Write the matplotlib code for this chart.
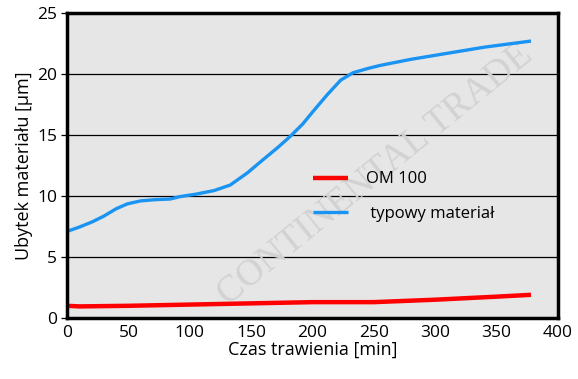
import matplotlib
matplotlib.use("Agg")
import matplotlib.pyplot as plt

# Czas trawienia [min] and Ubytek materiału [um]
t_typowy = [0, 10, 21, 30, 40, 49, 60, 72, 84, 92, 105, 120, 133, 147, 160,
            172, 182, 192, 201, 212, 223, 233, 245, 255, 280, 310, 340, 378]
typowy = [7.1, 7.45, 7.9, 8.35, 8.95, 9.35, 9.6, 9.7, 9.75, 9.95, 10.15, 10.45,
          10.9, 11.9, 13.0, 14.0, 14.9, 15.9, 17.0, 18.3, 19.5, 20.1, 20.45, 20.7,
          21.2, 21.7, 22.2, 22.7]
t_om = [0, 10, 50, 100, 150, 200, 250, 300, 350, 378]
om100 = [1.0, 0.95, 1.0, 1.1, 1.2, 1.3, 1.3, 1.5, 1.75, 1.9]

xticks = [0, 50, 100, 150, 200, 250, 300, 350, 400]
yticks = [0, 5, 10, 15, 20, 25]

plt.rcParams["font.family"] = ["Open Sans", "DejaVu Sans"]

fig = plt.figure(figsize=(5.78, 3.79), dpi=100)
ax = fig.add_axes([67 / 578, 1 - 318 / 379, 491 / 578, 305 / 379])
ax.set_facecolor("#e6e6e6")

ax.plot(t_om, om100, color="#ff0000", lw=3.2, label="OM 100", solid_capstyle="butt")
ax.plot(t_typowy, typowy, color="#1a94f2", lw=2.4, label=" typowy materiał",
        solid_capstyle="butt")

ax.set_xlim(0, 400)
ax.set_ylim(0, 25)
ax.set_xticks(xticks)
ax.set_yticks(yticks)
ax.yaxis.grid(True, color="black", lw=0.9)
ax.set_axisbelow(True)
ax.tick_params(axis="x", length=0, labelsize=12.5, pad=5)
ax.tick_params(axis="y", length=4, width=0.9, labelsize=12.5, pad=3)
for s in ax.spines.values():
    s.set_linewidth(2.5)

ax.set_xlabel("Czas trawienia [min]", fontsize=13, labelpad=0)
ax.set_ylabel("Ubytek materiału [μm]", fontsize=13, labelpad=3)

# watermark
ax.text(0.627, 0.47, "CONTINENTAL TRADE", transform=ax.transAxes,
        fontsize=27, family="Liberation Serif", color="#d2d2d2",
        rotation=39, ha="center", va="center", zorder=1, clip_on=True)

leg = ax.legend(loc="upper left", bbox_to_anchor=(0.47, 0.53), frameon=False,
                fontsize=12, handlelength=2.1, handletextpad=1.1,
                labelspacing=1.1)

fig.savefig("out.png", dpi=100)
